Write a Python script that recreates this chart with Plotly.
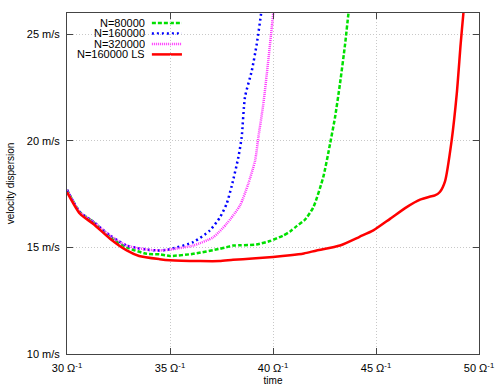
import plotly.graph_objects as go

# ---- data ----
x_80k = [30, 30.63, 31.28, 32.09, 32.9, 33.87, 34.5, 35, 36.13, 37.43, 37.75, 38.07, 38.4, 39.2, 39.85, 40.5, 40.83, 41.15, 41.55, 41.96, 42.44, 42.77, 43.01, 43.25, 43.5, 43.66, 43.72]
y_80k = [17.7, 16.65, 16.2, 15.5, 15.0, 14.7, 14.68, 14.6, 14.7, 14.94, 15.01, 15.09, 15.1, 15.14, 15.3, 15.56, 15.75, 16.0, 16.3, 16.89, 18.3, 19.86, 21.1, 22.67, 24.54, 25.96, 26.4]

x_160k = [30, 30.63, 31.28, 32.09, 32.9, 33.87, 34.5, 35, 36.13, 36.94, 37.43, 37.75, 38.0, 38.32, 38.48, 38.64, 38.97, 39.21, 39.42, 39.47]
y_160k = [17.7, 16.65, 16.2, 15.56, 15.09, 14.9, 14.86, 14.92, 15.25, 15.8, 16.42, 17.05, 17.9, 19.24, 20.18, 22.05, 23.29, 24.54, 25.96, 26.4]

x_320k = [30, 30.63, 31.28, 32.09, 32.9, 33.87, 34.5, 35, 36.13, 37.1, 37.75, 38.4, 38.8, 39.13, 39.29, 39.53, 39.77, 39.94, 40.01, 40.05]
y_320k = [17.7, 16.65, 16.2, 15.56, 15.09, 14.9, 14.86, 14.9, 15.09, 15.48, 16.11, 16.97, 17.99, 19.07, 20.17, 21.73, 23.76, 25.32, 25.96, 26.4]

x_ls = [30, 30.63, 31.28, 32.09, 32.9, 33.5, 34.5, 35, 36.46, 37.4, 38.06, 39, 40, 40.83, 41.5, 42.12, 43.25, 44.2, 44.87, 45.68, 46.49, 47.14, 47.6, 47.86, 48.1, 48.35, 48.67, 48.92, 49.11, 49.24, 49.3]
y_ls = [17.6, 16.58, 16.1, 15.41, 14.86, 14.6, 14.45, 14.4, 14.36, 14.36, 14.42, 14.48, 14.55, 14.63, 14.72, 14.86, 15.09, 15.5, 15.8, 16.34, 16.89, 17.24, 17.38, 17.44, 17.6, 18.1, 20.0, 22.2, 24.55, 25.96, 26.5]

series_names = ["N=80000", "N=160000", "N=320000", "N=160000 LS"]

x_ticks = [30, 35, 40, 45, 50]
x_ticktext = ["30 \u03a9<sup>-1</sup>", "35 \u03a9<sup>-1</sup>", "40 \u03a9<sup>-1</sup>", "45 \u03a9<sup>-1</sup>", "50 \u03a9<sup>-1</sup>"]
y_ticks = [10, 15, 20, 25]
y_ticktext = ["10 m/s", "15 m/s", "20 m/s", "25 m/s"]

# ---- styles ----
styles = [
    dict(color="#00e000", width=2.5, dash="4px,2px"),
    dict(color="#0000ff", width=2.5, dash="2px,3px"),
    dict(color="#ff33ff", width=2.5, dash="1px,1px"),
    dict(color="#ff0000", width=2.5, dash="solid"),
]
xs = [x_80k, x_160k, x_320k, x_ls]
ys = [y_80k, y_160k, y_320k, y_ls]

fig = go.Figure()
for name, xv, yv, st in zip(series_names, xs, ys, styles):
    fig.add_trace(go.Scatter(x=xv, y=yv, mode="lines", name=name, showlegend=False,
                             line=dict(shape="spline", smoothing=0.6, **st)))

axis_common = dict(showline=True, linecolor="#444444", linewidth=1, mirror="ticks",
                   ticks="inside", ticklen=6, tickcolor="#444444",
                   showgrid=True, gridcolor="#c8c8c8", griddash="1px,2px", gridwidth=1,
                   zeroline=False, tickfont=dict(size=11, color="#000000"),
                   ticklabelstandoff=4, automargin=False)

fig.update_xaxes(range=[30, 50], tickvals=x_ticks, ticktext=x_ticktext,
                 title=dict(text="time", font=dict(size=10, color="#000000"), standoff=3),
                 **axis_common)
fig.update_yaxes(range=[10, 26], tickvals=y_ticks, ticktext=y_ticktext,
                 title=dict(text="velocity dispersion", font=dict(size=10, color="#000000"), standoff=10),
                 **axis_common)

# ---- gnuplot-style key (text right-aligned, sample to the right) ----
key_text_x = 0.192
key_line_x0, key_line_x1 = 0.206, 0.279
key_top, key_step = 0.971, 0.0308
shapes = [dict(type="rect", xref="paper", yref="paper", x0=0.001, x1=0.294, y0=0.859, y1=0.998,
               fillcolor="white", line=dict(width=0), layer="between")]
annotations = []
for i, (name, st) in enumerate(zip(series_names, styles)):
    yk = key_top - i * key_step
    shapes.append(dict(type="line", xref="paper", yref="paper", x0=key_line_x0, x1=key_line_x1,
                       y0=yk, y1=yk, line=st, layer="between"))
    annotations.append(dict(text=name, xref="paper", yref="paper", x=key_text_x, y=yk,
                            xanchor="right", yanchor="middle", showarrow=False,
                            height=10, valign="middle", borderpad=0,
                            font=dict(size=11, color="#000000")))

fig.update_layout(
    width=497, height=386,
    margin=dict(l=67, r=18, t=13, b=32),
    paper_bgcolor="white", plot_bgcolor="white",
    font=dict(family="Liberation Sans, Arial, sans-serif", size=11, color="#000000"),
    shapes=shapes, annotations=annotations,
    showlegend=False,
)

fig.write_html("out.html", config={"displayModeBar": False},
               post_script="document.body.style.margin='0';document.body.style.overflow='hidden';")
